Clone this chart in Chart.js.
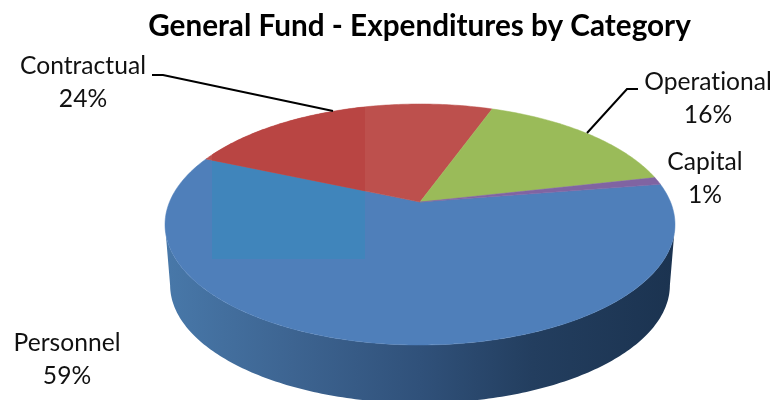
<!DOCTYPE html>
<html>
<head>
<meta charset="utf-8">
<title>General Fund - Expenditures by Category</title>
<script src="https://cdn.jsdelivr.net/npm/chart.js@4"></script>
<style>
  html, body { margin: 0; background: #fff; }
  #wrap { width: 775px; height: 400px; }
  canvas { font-variant-ligatures: none; }
</style>
</head>
<body>
<div id="wrap"><canvas id="fundChart"></canvas></div>
<script>
const categories = ['Personnel', 'Contractual', 'Operational', 'Capital'];
const shares = [59, 24, 16, 1];
const sliceColors = ['#4f7fba', '#bd504d', '#9abb59', '#8064a2'];
const titleText = 'General Fund - Expenditures by Category';

// where each category's two-line label sits
const labelSpots = [
  { x: 67, y: 343 },
  { x: 83, y: 66 },
  { x: 708, y: 82 },
  { x: 705, y: 162 }
];
const leaders = [
  [[152, 75], [163, 75], [333, 111]],
  [[638, 89], [627, 89], [587, 133]]
];

// tilted disc: perspective terms for the top face and the bottom of the wall
const tilt = -0.1867;
const topFace = { x: 420, y: 202, a: 250.5, b: 116.3 };
const baseFace = { x: 420, y: 263, a: 245.5, b: 114 };
const frontStart = 10.8 * Math.PI / 180;
const frontEnd = 169.2 * Math.PI / 180;

function project(face, angle) {
  const w = 1 + tilt * Math.sin(angle);
  return [face.x + face.a * Math.cos(angle) / w, face.y + face.b * Math.sin(angle) / w];
}

function traceRim(ctx, face, from, to) {
  const steps = Math.max(2, Math.ceil(Math.abs(to - from) / 0.015));
  for (let i = 0; i <= steps; i++) {
    const p = project(face, from + (to - from) * i / steps);
    ctx.lineTo(p[0], p[1]);
  }
}

function drawWall(ctx) {
  const g = ctx.createLinearGradient(165, 0, 675, 0);
  g.addColorStop(0, '#4878a9');
  g.addColorStop(0.25, '#3d6491');
  g.addColorStop(0.5, '#30517a');
  g.addColorStop(0.72, '#233e5f');
  g.addColorStop(1, '#1b3350');
  ctx.beginPath();
  traceRim(ctx, topFace, frontStart, frontEnd);
  traceRim(ctx, baseFace, frontEnd, frontStart);
  ctx.closePath();
  ctx.fillStyle = g;
  ctx.fill();
}

// the square-ish patch on the back left of the pie is tinted differently
const patch = { x: 212, y: 90, w: 153, h: 169 };
const patchColors = ['#4085bb', '#b94543', null, null];

const piePerspective = {
  id: 'piePerspective',
  beforeDatasetDraw(chart, args) {
    const ctx = chart.ctx;
    const arcs = args.meta.data;
    ctx.save();
    drawWall(ctx);
    arcs.forEach((arc, i) => {
      ctx.save();
      ctx.beginPath();
      ctx.moveTo(topFace.x, topFace.y);
      traceRim(ctx, topFace, arc.startAngle, arc.endAngle);
      ctx.closePath();
      ctx.fillStyle = sliceColors[i];
      ctx.strokeStyle = sliceColors[i];
      ctx.lineWidth = 0.5;
      ctx.fill();
      ctx.stroke();
      if (patchColors[i]) {
        ctx.clip();
        ctx.fillStyle = patchColors[i];
        ctx.fillRect(patch.x, patch.y, patch.w, patch.h);
      }
      ctx.restore();
    });
    ctx.restore();
    return false; // slices are already painted on the tilted disc
  },
  afterDraw(chart) {
    const ctx = chart.ctx;
    ctx.save();
    ctx.strokeStyle = '#000';
    ctx.lineWidth = 2;
    leaders.forEach(pts => {
      ctx.beginPath();
      pts.forEach((p, i) => i ? ctx.lineTo(p[0], p[1]) : ctx.moveTo(p[0], p[1]));
      ctx.stroke();
    });
    ctx.fillStyle = '#111';
    ctx.font = '24.6px Lato';
    ctx.letterSpacing = '0.01px'; // keeps the "ti" pairs unjoined
    ctx.textAlign = 'center';
    ctx.textBaseline = 'middle';
    categories.forEach((name, i) => {
      ctx.fillText(name, labelSpots[i].x, labelSpots[i].y);
      ctx.fillText(shares[i] + '%', labelSpots[i].x, labelSpots[i].y + 33);
    });
    ctx.restore();
  }
};

new Chart(document.getElementById('fundChart').getContext('2d'), {
  type: 'pie',
  data: {
    labels: categories,
    datasets: [{
      data: shares,
      backgroundColor: sliceColors,
      borderWidth: 0
    }]
  },
  options: {
    responsive: true,
    maintainAspectRatio: false,
    animation: false,
    rotation: 81,
    layout: { padding: { left: 64 } },
    plugins: {
      legend: { display: false },
      tooltip: { enabled: false },
      title: {
        display: true,
        text: titleText,
        fullSize: false,
        color: '#000',
        font: { family: 'Lato', size: 29.7, weight: 'bold' },
        padding: { top: 9, bottom: 6 }
      }
    }
  },
  plugins: [piePerspective]
});
</script>
</body>
</html>
